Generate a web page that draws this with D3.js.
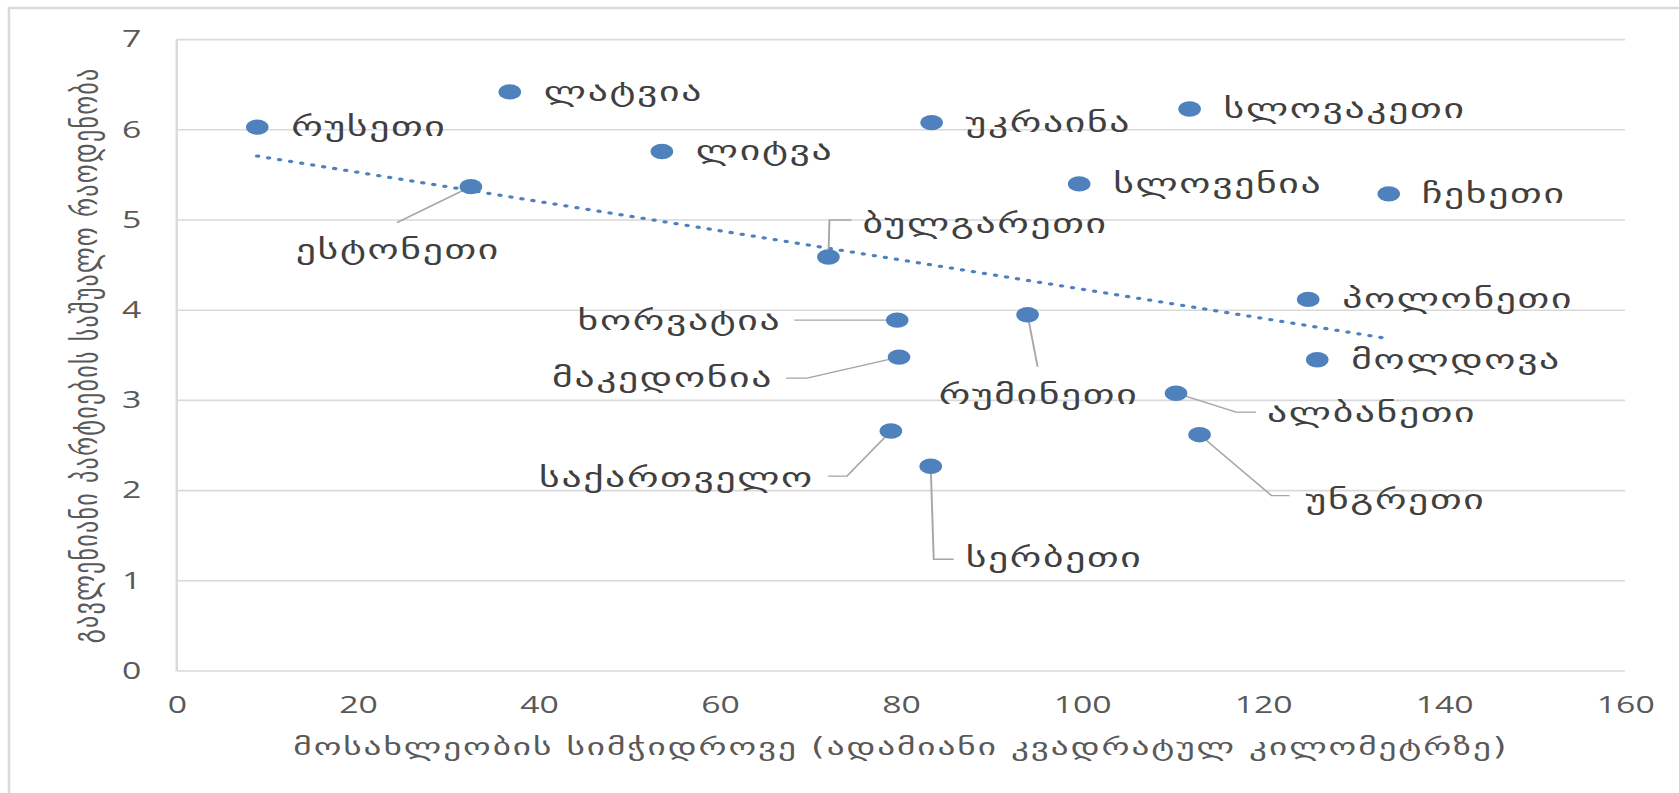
<!DOCTYPE html>
<html><head><meta charset="utf-8">
<script src="https://cdn.jsdelivr.net/npm/d3@7"></script>
<style>html,body{margin:0;padding:0;background:#fff;}svg{display:block;}</style>
</head><body>
<svg id="c" width="1679" height="793"></svg>
<script>
// ---- data ----
const countries = ["რუსეთი","ლატვია","ლიტვა","ესტონეთი","უკრაინა","სლოვაკეთი","სლოვენია","ჩეხეთი","ბულგარეთი","პოლონეთი","ხორვატია","რუმინეთი","მოლდოვა","მაკედონია","ალბანეთი","საქართველო","უნგრეთი","სერბეთი"];
const density = [8.9,36.8,53.6,32.5,83.4,111.9,99.7,133.9,72.0,125.0,79.6,94.0,126.0,79.8,110.4,78.9,113.0,83.3];
const parties = [6.03,6.42,5.76,5.37,6.08,6.23,5.40,5.29,4.59,4.12,3.89,3.95,3.45,3.48,3.08,2.66,2.62,2.27];
const xTicks = [0,20,40,60,80,100,120,140,160];
const yTicks = [0,1,2,3,4,5,6,7];
const xTitle = "მოსახლეობის სიმჭიდროვე (ადამიანი კვადრატულ კილომეტრზე)";
const yTitle = "გავლენიანი პარტიების საშუალო რაოდენობა";

// ---- layout (screen px offsets from each point) ----
const R = {dx:34, dy:9, anchor:"start", leader:null};
const labelLayout = {
  "რუსეთი":R,"ლატვია":R,"ლიტვა":R,"უკრაინა":R,"სლოვაკეთი":R,"სლოვენია":R,"ჩეხეთი":{dx:33,dy:9,anchor:"start",leader:null},"პოლონეთი":R,"მოლდოვა":R,
  "ესტონეთი":{dx:-73,dy:72,anchor:"middle",leader:[[0,0],[-74,36]]},
  "ბულგარეთი":{dx:34,dy:-24,anchor:"start",leader:[[0,0],[1,-37],[23,-37]]},
  "ხორვატია":{dx:-116,dy:10,anchor:"end",leader:[[0,0],[-103,0]]},
  "მაკედონია":{dx:-126,dy:30,anchor:"end",leader:[[0,0],[-92,21],[-113,21]]},
  "რუმინეთი":{dx:11,dy:89,anchor:"middle",leader:[[0,0],[10,52]]},
  "ალბანეთი":{dx:91,dy:29,anchor:"start",leader:[[0,0],[60,19],[80,19]]},
  "საქართველო":{dx:-77,dy:56,anchor:"end",leader:[[0,0],[-44,45],[-63,45]]},
  "სერბეთი":{dx:35,dy:101,anchor:"start",leader:[[0,0],[3,93],[23,93]]},
  "უნგრეთი":{dx:106,dy:74,anchor:"start",leader:[[0,0],[72,61],[90,61]]}
};

const S = 1.47; // horizontal stretch of the picture
const svg = d3.select("#c");
svg.append("rect").attr("x",9).attr("y",8).attr("width",1700).attr("height",820)
  .attr("fill","#fff").attr("stroke","#d9d9d9").attr("stroke-width",2.5);
const g = svg.append("g").attr("transform",`scale(${S},1)`);

const x = d3.scaleLinear().domain([0,160]).range([176.7/S,1625/S]);
const y = d3.scaleLinear().domain([0,7]).range([671,39.6]);

// gridlines
g.append("g").selectAll("line").data(yTicks).join("line")
  .attr("x1",x(0)).attr("x2",x(160)).attr("y1",d=>y(d)).attr("y2",d=>y(d))
  .attr("stroke","#d9d9d9").attr("stroke-width",1.6);
g.append("line").attr("x1",x(0)).attr("x2",x(0)).attr("y1",y(0)).attr("y2",y(7))
  .attr("stroke","#d9d9d9").attr("stroke-width",1.6);

// axes via d3
const yAxis = g.append("g").attr("transform",`translate(${x(0)-24},0)`)
  .call(d3.axisLeft(y).tickValues(yTicks).tickFormat(d3.format("d")).tickSize(0).tickPadding(0));
const xAxis = g.append("g").attr("transform",`translate(0,${y(0)+26})`)
  .call(d3.axisBottom(x).tickValues(xTicks).tickFormat(d3.format("d")).tickSize(0).tickPadding(0));
[yAxis,xAxis].forEach(a=>{a.select(".domain").remove();
  a.selectAll("text").attr("fill","#595959").attr("font-family","'Open Sans',sans-serif").attr("font-size",23);});
xAxis.selectAll("text").attr("dy","0.71em");

// trendline (least squares of the data)
const mx = d3.mean(density), my = d3.mean(parties);
const b = d3.sum(density.map((v,i)=>(v-mx)*(parties[i]-my))) / d3.sum(density.map(v=>(v-mx)*(v-mx)));
const a0 = my - b*mx;
const [xmin,xmax] = d3.extent(density);
g.append("line").attr("x1",x(xmin)).attr("y1",y(a0+b*xmin)).attr("x2",x(xmax)).attr("y2",y(a0+b*xmax))
  .attr("stroke","#4F81BD").attr("stroke-width",3.2).attr("stroke-linecap","round").attr("stroke-dasharray","0.5,7.2");

// leaders
const pts = countries.map((c,i)=>({c, px:x(density[i]), py:y(parties[i]), L:labelLayout[c]}));
g.append("g").selectAll("path").data(pts.filter(p=>p.L.leader)).join("path")
  .attr("d",p=>d3.line()(p.L.leader.map(([dx,dy])=>[p.px+dx/S,p.py+dy])))
  .attr("fill","none").attr("stroke","#a6a6a6").attr("stroke-width",1.3);

// points
g.append("g").selectAll("circle").data(pts).join("circle")
  .attr("cx",p=>p.px).attr("cy",p=>p.py).attr("r",7.7).attr("fill","#4F81BD");

// labels
g.append("g").selectAll("text").data(pts).join("text")
  .attr("x",p=>p.px+p.L.dx/S).attr("y",p=>p.py+p.L.dy).attr("text-anchor",p=>p.L.anchor)
  .attr("font-family","'DejaVu Sans',sans-serif").attr("font-size",27).attr("letter-spacing",1.1).attr("fill","#404040")
  .text(p=>p.c);

// axis titles
g.append("text").attr("x",(x(0)+x(160))/2).attr("y",755).attr("text-anchor","middle")
  .attr("font-family","'DejaVu Sans',sans-serif").attr("font-size",24).attr("letter-spacing",1.3).attr("fill","#595959").text(xTitle);
g.append("text").attr("transform",`translate(${97/S},${(y(0)+y(7))/2}) rotate(-90)`).attr("text-anchor","middle")
  .attr("font-family","'DejaVu Sans',sans-serif").attr("font-size",24).attr("letter-spacing",1.3).attr("fill","#595959").text(yTitle);
</script>
</body></html>
